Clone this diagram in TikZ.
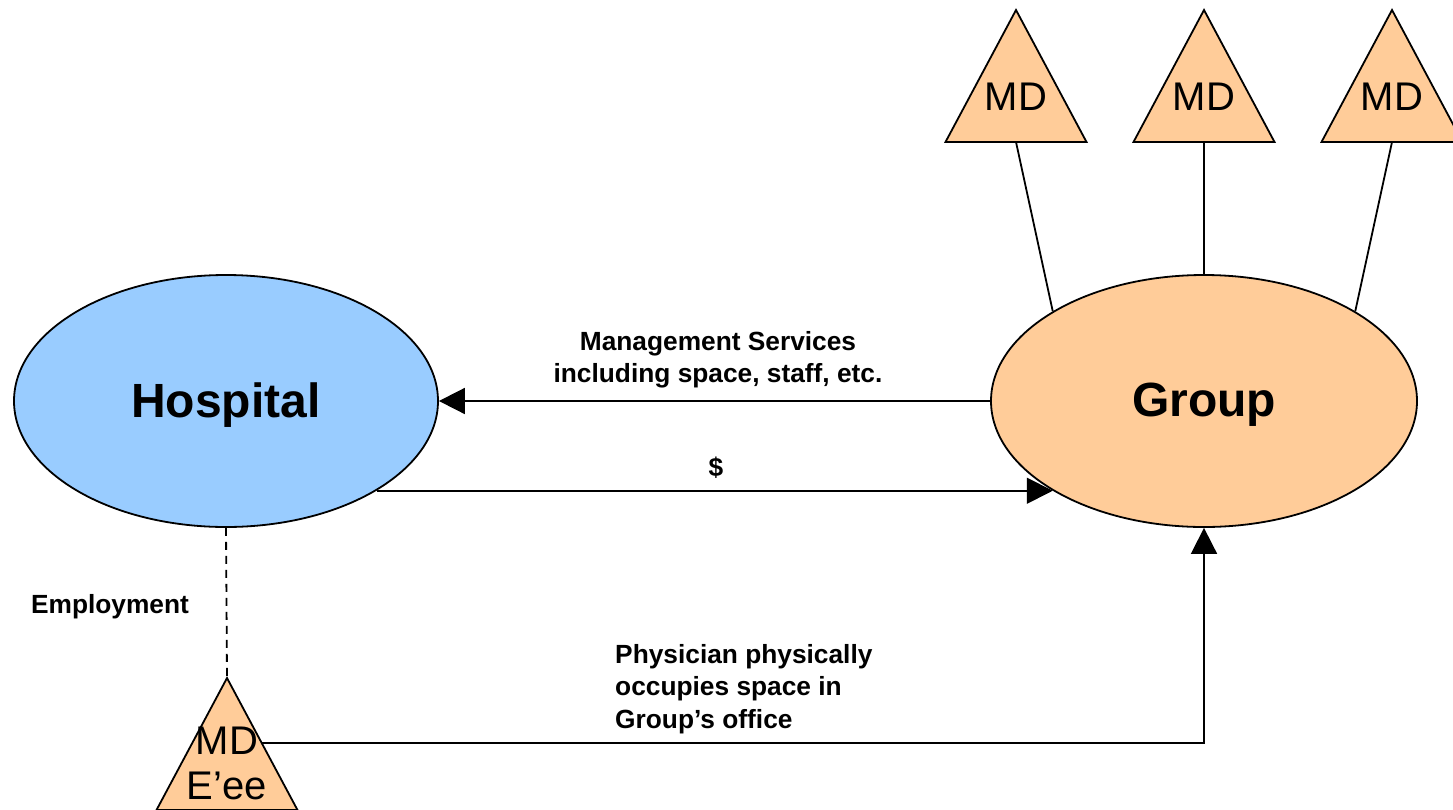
\documentclass[tikz,border=0pt]{standalone}
\usepackage{fontspec}
\setmainfont{Liberation Sans}
\usetikzlibrary{arrows.meta,shapes.geometric}
\definecolor{hospblue}{HTML}{99CCFF}
\definecolor{mdorange}{HTML}{FFCC99}
\tikzset{
  org/.style={ellipse,draw=black,line width=1.8pt,inner sep=0pt,minimum height=252pt,font=\bfseries\fontsize{48}{52}\selectfont},
  mdtri/.style={draw=black,line width=1.8pt,fill=mdorange},
  mdtext/.style={font=\fontsize{40}{45}\selectfont,align=center,inner sep=0pt},
  lbl/.style={font=\bfseries\fontsize{26.3}{32.5}\selectfont,inner sep=0pt},
  link/.style={line width=1.8pt},
  arr/.style={line width=1.8pt,-{Triangle[length=26pt,width=26pt]}},
}
\begin{document}
\begin{tikzpicture}[x=1pt,y=-1pt]
\useasboundingbox (0,0) rectangle (1453,809);
% organisations
\node[org,fill=hospblue,minimum width=424pt] (hospital) at (226,401) {\raisebox{-4pt}[\height][\depth]{Hospital}};
\node[org,fill=mdorange,minimum width=426pt] (group) at (1204,401) {\raisebox{-4pt}[\height][\depth]{Group}};
% top MD triangles
\foreach \i/\x in {1/1016,2/1204,3/1392}{
  \draw[mdtri] (\x,10) -- (\x+70.5,142) -- (\x-70.5,142) -- cycle;
  \coordinate (b\i) at (\x,142);
  \node[mdtext] (md\i) at (\x,97) {MD};
}
% bottom MD employee triangle
\draw[mdtri] (227,678) -- (297.5,810) -- (156.5,810) -- cycle;
\coordinate (apex) at (227,678);
\coordinate (eeside) at (261.7,743);
\node[mdtext] (mde) at (227,763.5) {MD\\E’ee};
% links from MDs to group
\draw[link] (b1) -- (group.north west);
\draw[link] (b2) -- (group.north);
\draw[link] (b3) -- (group.north east);
% arrows
\draw[arr] (group.west) -- (hospital.east);
\draw[arr] (hospital.south east) -- (group.south west);
\draw[arr] (eeside) -| (group.south);
\draw[link,dash pattern=on 8pt off 6pt] (hospital.south) -- (apex);
% labels
\node[lbl,align=center] (ms) at (718,360) {Management Services\\including space, staff, etc.};
\node[lbl] (dollar) at (716,468) {\$};
\node[lbl] (emp) at (110,607) {Employment};
\node[lbl,align=left,anchor=west] (phys) at (615,689) {Physician physically\\occupies space in\\Group’s office};
\end{tikzpicture}
\end{document}
